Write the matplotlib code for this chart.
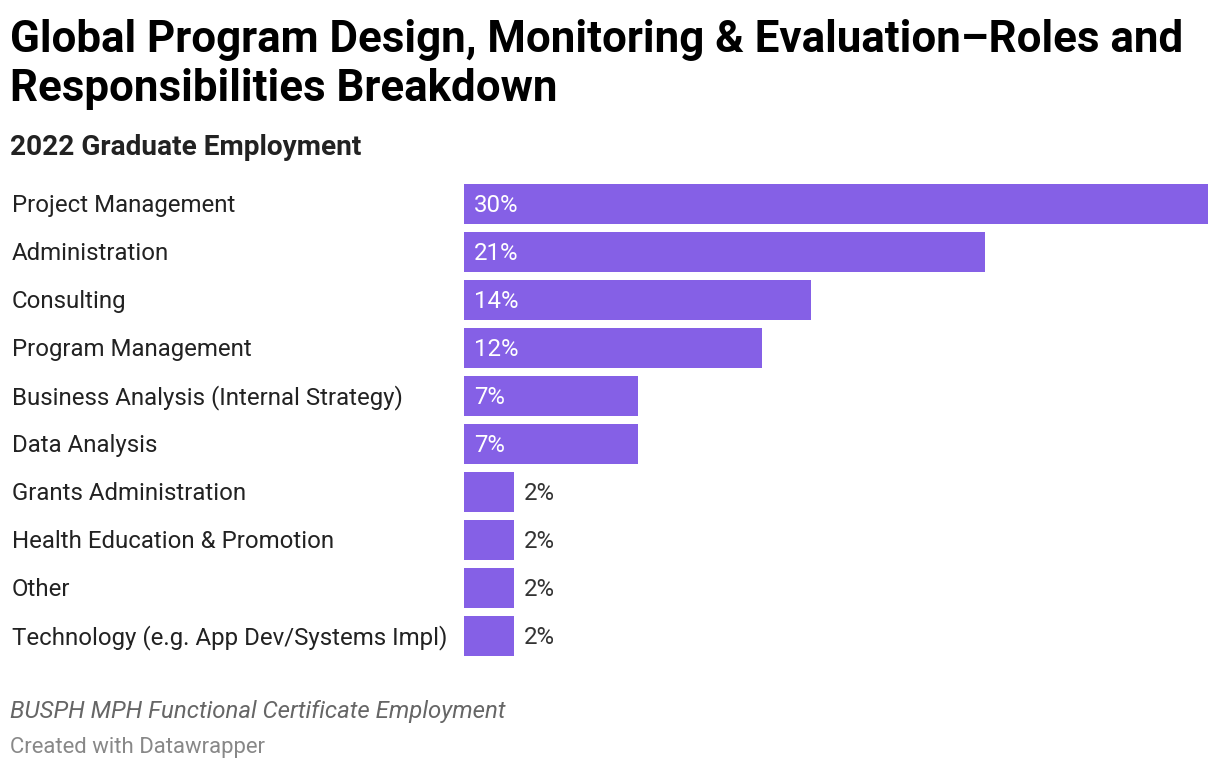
import matplotlib
matplotlib.use("Agg")
import matplotlib.pyplot as plt
from matplotlib.transforms import blended_transform_factory

plt.rcParams['font.family'] = ['Roboto', 'DejaVu Sans']

categories = [
    "Project Management",
    "Administration",
    "Consulting",
    "Program Management",
    "Business Analysis (Internal Strategy)",
    "Data Analysis",
    "Grants Administration",
    "Health Education & Promotion",
    "Other",
    "Technology (e.g. App Dev/Systems Impl)",
]
values = [30, 21, 14, 12, 7, 7, 2, 2, 2, 2]
value_labels = ["30%", "21%", "14%", "12%", "7%", "7%", "2%", "2%", "2%", "2%"]

BAR = "#8560e6"

fig = plt.figure(figsize=(12.2, 7.7), dpi=100)
ax = fig.add_axes([464 / 1220, 1 - 660 / 770, 744 / 1220, 480 / 770])

y = list(range(len(categories)))
ax.barh(y, values, height=40 / 48, color=BAR)
ax.set_xlim(0, 30)
ax.set_ylim(len(categories) - 0.5, -0.5)
ax.axis("off")

# nudge text a couple of pixels down to sit like the reference
dy = 0.04
row_tf = blended_transform_factory(fig.transFigure, ax.transData)
for i, (v, lab) in enumerate(zip(values, value_labels)):
    if v >= 5:
        ax.text(0.4, i + dy, lab, color="white", fontsize=17.3, va="center", ha="left")
    else:
        ax.text(v + 0.4, i + dy, lab, color="#333333", fontsize=17.3, va="center", ha="left")
    fig.text(12 / 1220, i + dy, categories[i], fontsize=17.25, color="#222222",
             va="center", ha="left", transform=row_tf)

fig.text(10 / 1220, 1 - 52 / 770, "Global Program Design, Monitoring & Evaluation\u2013Roles and",
         fontsize=31.6, fontweight="bold", color="black", va="baseline")
fig.text(10 / 1220, 1 - 101 / 770, "Responsibilities Breakdown",
         fontsize=31.6, fontweight="bold", color="black", va="baseline")
fig.text(10 / 1220, 1 - 155 / 770, "2022 Graduate Employment",
         fontsize=20.2, fontweight="bold", color="#222222", va="baseline")
fig.text(10 / 1220, 1 - 718 / 770, "BUSPH MPH Functional Certificate Employment",
         fontsize=17.3, style="italic", color="#666666", va="baseline")
fig.text(10 / 1220, 1 - 753 / 770, "Created with Datawrapper",
         fontsize=15.9, color="#888888", va="baseline")

fig.savefig("out.png", dpi=100)
